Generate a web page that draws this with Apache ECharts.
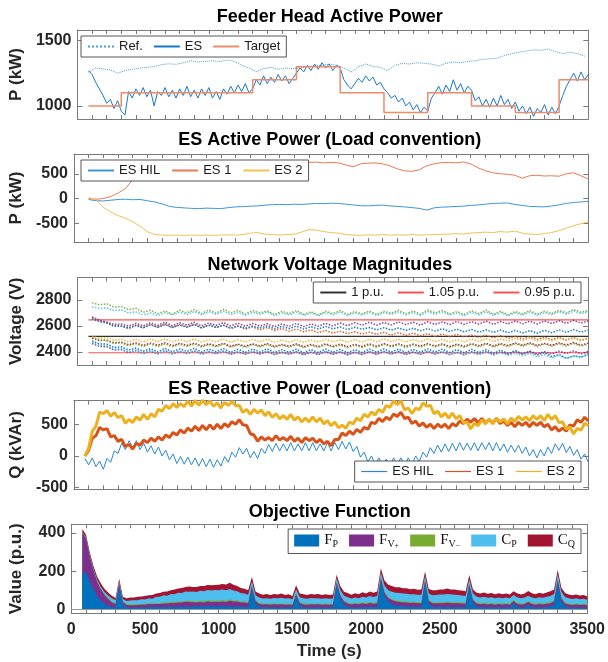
<!DOCTYPE html>
<html><head><meta charset="utf-8">
<script src="https://cdn.jsdelivr.net/npm/echarts@6.0.0/dist/echarts.min.js"></script>
<style>html,body{margin:0;padding:0;background:#fff}#c{width:608px;height:662px}</style>
</head><body><div id="c"></div>
<script>
// ---------- time bases ----------
const T0_25 = 75, DT_25 = 25;   // fine series
const T0_50 = 100, DT_50 = 50;  // coarse series
const T0_REF = 75;

// ---------- Panel 1: Feeder head active power (kW) ----------
const p1Ref = [1258,1290,1282,1275,1250,1270,1280,1288,1295,1300,
 1315,1322,1318,1330,1345,1335,1340,1345,1338,1350,
 1340,1310,1290,1262,1285,1295,1280,1290,1285,1290,
 1300,1305,1310,1320,1310,1290,1260,1300,1320,1300,
 1295,1270,1310,1325,1320,1330,1325,1320,1305,1325,
 1335,1330,1340,1345,1355,1360,1365,1385,1400,1410,
 1420,1428,1425,1435,1415,1400,1410,1400,1380];
const p1ES = [1270,1240,1180,1130,1080,1020,1050,980,1040,960,
 930,1110,1060,1130,1080,1140,1070,1120,1000,1110,
 1080,1140,1070,1120,1060,1130,1080,1150,1070,1120,
 1060,1130,1080,1140,1060,1110,1050,1130,1090,1150,
 1100,1160,1110,1170,1100,1130,1200,1160,1230,1170,
 1220,1180,1240,1190,1230,1170,1210,1250,1290,1260,
 1310,1270,1320,1280,1330,1290,1320,1270,1310,1290,
 1200,1160,1130,1170,1210,1180,1230,1190,1220,1160,
 1180,1130,1100,1060,1080,1030,1060,1000,1030,970,
 1010,950,990,960,1060,1100,1150,1090,1160,1110,
 1200,1120,1170,1100,1150,1120,1040,1070,1000,1050,
 990,1060,1000,1080,1010,1050,980,1030,960,1000,
 940,990,920,980,950,1010,930,990,940,1000,
 1080,1150,1200,1250,1190,1260,1200,1240];
const targetTimes  = [75,300,1200,1500,1800,2100,2400,2700,3000,3300,3500];
const targetLevels = [1000,1100,1200,1300,1100,950,1100,1000,950,1200,1200];

// ---------- Panel 2: ES active power (kW) ----------
const p2HIL = [-20,-45,-50,-35,-20,-15,-25,-20,-45,-70,
 -110,-160,-180,-190,-200,-205,-195,-200,-205,-185,
 -170,-165,-155,-150,-135,-125,-120,-125,-115,-120,
 -110,-100,-105,-95,-100,-115,-130,-145,-150,-140,
 -135,-150,-160,-170,-185,-200,-235,-190,-175,-170,
 -160,-155,-140,-130,-115,-100,-95,-90,-120,-140,
 -160,-165,-170,-150,-130,-100,-80,-70,-55];
const p2ES1 = [0,-15,0,40,110,200,380,480,560,620,
 670,700,720,730,740,735,745,740,735,745,
 740,735,740,730,735,740,730,725,730,725,
 730,735,720,730,720,680,640,700,715,720,
 700,660,600,560,550,580,660,700,725,730,
 720,740,700,620,560,520,500,490,470,410,
 460,470,455,460,450,500,520,460,390];
const p2ES2 = [15,-20,-180,-270,-345,-400,-470,-560,-670,-730,
 -740,-745,-740,-745,-740,-745,-740,-745,-740,-735,
 -740,-730,-700,-690,-720,-730,-740,-730,-720,-680,
 -630,-640,-670,-690,-700,-730,-740,-745,-735,-740,
 -730,-740,-735,-740,-730,-740,-735,-730,-725,-720,
 -710,-720,-700,-690,-680,-690,-670,-680,-660,-700,
 -720,-730,-710,-690,-650,-600,-550,-510,-470];

// ---------- Panel 3: network voltage magnitudes (V) ----------
const puLevels = {one: 2520, high: 2646, low: 2394};
const V1 = [2778,2762,2770,2745,2748,2725,2735,2705,2720,2695,2715,2690,2720,2700,2725,2695,2722,2698,2728,2700,2720,2692,2718,2700,2715,2688,2712,2695,2718,2690,2708,2685,2712,2695,2718,2688,2710,2692,2715,2688,2712,2698,2720,2692,2715,2690,2722,2700,2718,2692,2710,2688,2715,2695,2720,2690,2712,2686,2710,2692,2718,2690,2712,2695,2720,2700,2725,2705,2718];
const V2 = [2748,2735,2738,2718,2722,2700,2708,2685,2700,2680,2702,2684,2706,2688,2710,2685,2708,2690,2712,2686,2706,2682,2704,2690,2708,2680,2700,2686,2706,2682,2698,2678,2702,2686,2708,2680,2700,2684,2704,2680,2702,2688,2708,2684,2704,2680,2710,2690,2706,2684,2700,2678,2704,2686,2708,2682,2702,2678,2700,2684,2706,2682,2702,2688,2710,2690,2714,2694,2708];
const V3 = [2665,2640,2625,2600,2598,2580,2605,2585,2612,2590,2615,2588,2610,2592,2614,2585,2608,2590,2605,2580,2598,2575,2592,2570,2588,2565,2580,2560,2575,2555,2570,2548,2565,2545,2560,2540,2555,2538,2552,2535,2550,2530,2548,2528,2545,2525,2540,2520,2538,2518,2535,2515,2530,2512,2528,2508,2525,2505,2520,2500,2518,2498,2515,2495,2512,2492,2510,2490,2505];
const V4 = [2668,2645,2630,2612,2615,2598,2620,2600,2625,2605,2628,2602,2624,2606,2628,2600,2622,2604,2626,2600,2620,2598,2618,2600,2616,2595,2614,2598,2618,2596,2615,2598,2620,2600,2622,2602,2625,2605,2628,2606,2626,2608,2630,2610,2628,2606,2632,2612,2630,2610,2634,2612,2632,2614,2636,2612,2634,2615,2638,2616,2636,2614,2638,2618,2640,2620,2642,2622,2638];
const V5 = [2655,2632,2622,2598,2600,2584,2604,2586,2608,2590,2610,2588,2606,2590,2610,2584,2604,2588,2606,2584,2600,2582,2598,2584,2600,2578,2596,2580,2598,2576,2594,2576,2596,2578,2592,2572,2590,2574,2588,2570,2586,2568,2584,2566,2582,2562,2580,2560,2578,2558,2575,2555,2572,2552,2570,2550,2568,2548,2566,2546,2564,2544,2566,2548,2570,2550,2572,2552,2568];
const V6 = [2522,2505,2510,2490,2498,2478,2496,2476,2498,2480,2500,2478,2496,2480,2500,2476,2494,2478,2498,2475,2494,2476,2496,2478,2498,2474,2492,2476,2496,2474,2492,2476,2498,2478,2494,2474,2496,2476,2498,2478,2500,2480,2498,2476,2496,2478,2500,2480,2498,2476,2496,2478,2500,2482,2502,2480,2500,2484,2504,2486,2506,2484,2502,2486,2506,2488,2508,2486,2504];
const V7 = [2505,2488,2490,2470,2475,2455,2470,2450,2468,2452,2470,2448,2466,2450,2468,2446,2462,2448,2466,2444,2460,2444,2462,2446,2464,2442,2458,2444,2462,2440,2458,2442,2462,2444,2460,2440,2458,2442,2462,2444,2464,2446,2462,2442,2460,2444,2464,2446,2462,2442,2460,2444,2464,2448,2466,2446,2464,2450,2468,2452,2470,2450,2466,2452,2470,2454,2472,2452,2468];
const V8 = [2485,2462,2460,2435,2440,2415,2430,2405,2425,2400,2428,2402,2424,2404,2428,2400,2422,2402,2426,2398,2420,2398,2422,2400,2424,2396,2418,2398,2422,2394,2418,2396,2422,2398,2420,2394,2418,2396,2422,2398,2424,2400,2422,2396,2420,2398,2424,2400,2422,2396,2418,2394,2420,2396,2418,2390,2414,2388,2410,2384,2404,2376,2396,2365,2380,2352,2370,2360,2385];
const V9 = [2465,2442,2440,2415,2418,2395,2410,2388,2406,2385,2408,2386,2404,2388,2408,2384,2402,2386,2406,2382,2400,2382,2402,2384,2404,2380,2398,2382,2402,2378,2398,2380,2402,2382,2400,2378,2398,2380,2402,2382,2404,2384,2402,2380,2400,2382,2404,2384,2402,2380,2398,2378,2402,2382,2404,2380,2400,2382,2404,2384,2406,2384,2402,2386,2406,2388,2408,2386,2404];
const V10 = [2512,2492,2488,2465,2470,2448,2462,2440,2460,2442,2462,2440,2458,2442,2462,2438,2456,2440,2460,2436,2454,2436,2456,2438,2458,2434,2452,2436,2456,2432,2452,2434,2456,2436,2454,2432,2452,2434,2456,2436,2458,2438,2456,2434,2454,2436,2458,2438,2456,2434,2452,2436,2458,2440,2460,2438,2458,2442,2462,2444,2464,2442,2460,2444,2464,2446,2466,2444,2462];
const V11 = [2475,2452,2448,2422,2425,2400,2415,2392,2410,2388,2412,2386,2406,2390,2410,2384,2404,2388,2408,2382,2402,2384,2404,2386,2406,2380,2400,2384,2404,2378,2400,2382,2404,2384,2402,2378,2400,2382,2404,2380,2402,2384,2404,2380,2400,2382,2406,2384,2402,2378,2398,2376,2400,2380,2402,2376,2396,2372,2392,2368,2388,2362,2380,2355,2372,2350,2368,2360,2378];
const voltTraces = [V1,V2,V3,V4,V5,V6,V7,V8,V9,V10,V11];
const voltColors = ['#77AC30','#4DBEEE','#D95319','#7E2F8E','#0072BD','#EDB120','#A2142F','#0072BD','#7E2F8E','#77AC30','#4DBEEE'];

// ---------- Panel 4: ES reactive power (kVAr) ----------
const p4HIL = [-40,-140,-30,-170,-80,-210,-40,-100,80,40,
 200,100,240,130,240,100,200,60,160,30,
 140,0,90,-60,30,-120,-10,-130,-20,-140,
 -30,-160,-40,-170,-50,-180,-60,-160,-10,-100,
 60,-20,130,30,120,-30,70,-40,120,40,
 180,70,200,80,190,80,210,80,190,80,
 210,80,210,80,190,80,210,80,210,100,
 230,110,220,70,150,-20,60,-90,0,-140,
 -30,-160,-50,-160,-30,-140,-30,-160,-30,-140,
 0,-90,60,-20,130,40,170,60,190,70,
 200,80,210,90,200,90,210,80,210,100,
 210,80,210,80,190,60,170,60,170,40,
 140,0,100,-30,100,0,140,40,190,90,
 200,50,150,10,100,-50,30,-100];
const p4ES1 = [0,90,280,320,450,410,430,300,320,230,
 260,150,180,110,200,170,250,210,280,230,
 300,250,330,290,370,330,410,360,440,390,
 470,400,480,410,490,420,500,430,510,460,
 540,500,570,490,480,350,330,230,300,250,
 290,240,320,250,290,240,310,230,280,210,
 290,240,280,210,260,190,230,160,260,260,
 360,320,390,340,420,370,450,420,530,510,
 590,540,610,570,660,620,690,590,610,510,
 550,470,520,450,500,430,500,450,500,430,
 510,470,550,510,580,530,590,520,590,520,
 570,520,590,510,550,480,530,460,530,480,
 530,460,530,480,530,460,500,410,460,390,
 440,390,490,470,570,530,610,550];
const p4ES2 = [0,120,390,470,690,665,715,625,685,605,
 635,515,575,525,615,565,655,575,665,615,
 735,705,795,745,825,765,825,775,865,785,
 875,795,880,805,865,785,835,755,845,795,
 855,795,795,685,735,655,735,675,725,635,
 695,605,665,585,635,575,655,565,615,535,
 595,535,615,535,595,505,555,475,535,445,
 485,435,535,505,595,555,655,615,695,645,
 735,685,795,765,865,805,865,725,755,665,
 755,725,835,785,795,665,705,615,675,595,
 675,585,635,525,535,425,515,475,565,505,
 585,505,595,535,585,505,595,545,625,565,
 615,555,635,575,635,555,655,575,635,525,
 535,425,455,345,435,405,515,480];

// ---------- Panel 5: objective function components (p.u.) ----------
const objFP = [190,195,150,110,70,45,30,20,12,10,
 120,25,12,8,10,8,12,9,14,10,
 13,10,14,11,15,12,16,12,17,13,
 18,14,18,14,19,15,18,15,19,15,
 18,14,16,13,14,12,110,30,14,10,
 13,9,12,9,12,9,11,10,70,20,
 11,9,12,9,12,9,11,9,11,130,
 60,25,14,10,12,10,13,11,14,11,
 13,150,70,40,28,20,18,15,16,13,
 15,12,14,140,30,14,12,14,12,15,
 12,14,12,13,11,120,35,14,11,13,
 10,12,10,12,10,12,10,30,14,10,
 12,25,12,10,12,10,13,15,25,140,
 40,15,11,9,11,9,10,8];
const objFVp = [210,175,130,95,75,60,45,35,25,18,
 15,14,12,14,12,15,13,16,14,17,
 15,18,17,20,19,22,21,24,23,26,
 20,22,21,23,22,24,22,24,23,24,
 28,27,25,23,22,20,12,14,15,16,
 14,16,15,17,15,16,15,14,10,14,
 15,16,15,17,15,16,15,16,15,10,
 14,16,17,16,18,17,19,18,20,19,
 20,15,18,20,21,22,21,22,20,21,
 20,21,19,12,16,19,20,19,21,20,
 21,19,20,18,19,12,15,17,16,17,
 16,17,15,16,15,16,15,14,16,15,
 16,14,16,15,17,16,17,18,18,15,
 17,16,15,14,15,14,15,14];
const objFVm = [2,2,3,3,3,4,4,4,5,5,
 3,4,4,5,4,5,4,5,4,5,
 4,5,5,5,5,6,5,6,6,6,
 6,6,6,7,6,7,6,7,6,7,
 6,6,6,5,5,5,4,4,5,5,
 4,5,4,5,4,5,4,4,4,4,
 5,5,4,5,4,5,4,5,4,4,
 4,5,5,5,5,5,5,5,5,5,
 5,4,5,5,5,6,5,6,5,6,
 5,6,5,4,5,5,5,5,6,5,
 6,5,6,5,5,4,5,5,6,5,
 6,5,6,5,6,5,6,5,6,6,
 5,5,6,6,5,6,5,6,5,4,
 5,6,5,6,5,6,5,5];
const objCP = [3,4,5,6,8,10,12,14,16,15,
 8,12,16,20,22,20,24,22,26,24,
 34,33,38,36,42,40,45,44,48,47,
 50,49,53,51,55,53,56,54,57,55,
 55,52,48,45,42,40,22,26,28,26,
 28,26,29,27,30,27,28,25,22,26,
 28,26,29,27,28,26,28,26,27,20,
 24,26,28,26,28,27,30,29,31,30,
 32,25,32,36,38,40,42,40,41,39,
 40,38,39,20,32,36,38,40,39,41,
 40,39,38,37,36,22,28,30,29,31,
 29,30,28,30,28,29,27,26,28,27,
 29,28,29,28,30,29,31,32,33,26,
 30,28,27,26,27,25,26,24];
const objCQ = [15,14,12,14,16,18,17,16,14,12,
 14,12,14,16,14,18,15,18,16,19,
 17,20,18,22,20,24,22,26,24,28,
 24,26,25,27,26,28,26,29,28,29,
 32,30,28,26,25,24,22,20,21,20,
 22,19,21,20,22,19,21,18,20,19,
 21,19,21,20,22,19,21,20,21,18,
 20,21,22,20,22,20,23,21,24,22,
 24,22,27,28,30,28,30,28,29,27,
 28,26,27,22,24,26,25,27,26,28,
 26,27,25,26,24,22,22,22,21,23,
 21,22,20,22,20,21,20,20,21,20,
 22,24,22,21,23,21,23,24,24,22,
 22,21,20,19,20,19,20,18];

// ---------- axes / labels ----------
const titles = ['Feeder Head Active Power','ES Active Power (Load convention)','Network Voltage Magnitudes','ES Reactive Power (Load convention)','Objective Function'];
const yNames = ['P (kW)','P (kW)','Voltage (V)','Q (kVAr)','Value (p.u.)'];
const yRanges = [[900,1580],[-880,900],[2300,2970],[-525,870],[-20,445]];
const yTicks = [[1000,1500],[-500,0,500],[2400,2600,2800],[-500,0,500],[0,200,400]];
const xMin = 0, xMax = 3500, xTickStep = 100, xLabelStep = 500;

// ---------- build ----------
const FONT = '"Liberation Sans", Arial, Helvetica, sans-serif';
const AX = '#7a7a7a';
const LBL = '#262626';
const gridTops = [30,154,277.7,400.7,524.3];
const gridHs = [89,88,87.3,88.6,89];
const titleYs = [17,140,265,389,512];

function pairs(t0, dt, arr){ return arr.map((v,i)=>[t0+i*dt, v]); }

const grid=[], xAxis=[], yAxis=[], series=[], graphic=[];
for(let i=0;i<5;i++){
  grid.push({left:71.3, width:517, top:gridTops[i], height:gridHs[i], containLabel:false});
  ['bottom','top'].forEach(pos=>{
    const lab = (i===4 && pos==='bottom');
    xAxis.push({type:'value', gridIndex:i, position:pos, min:xMin, max:xMax, interval:xTickStep,
      axisLine:{show:true,onZero:false,lineStyle:{color:AX,width:1}},
      axisTick:{show:true,inside:true,length:4,lineStyle:{color:AX}},
      axisLabel:{show:lab, margin:8, fontSize:16, fontWeight:'bold', color:LBL, fontFamily:FONT,
        formatter:v=> (v % xLabelStep === 0 ? String(v) : '')},
      splitLine:{show:false},
      name: lab ? 'Time (s)' : '', nameLocation:'middle', nameGap:30,
      nameTextStyle:{fontSize:17, fontWeight:'bold', color:LBL, fontFamily:FONT}});
  });
  ['left','right'].forEach(pos=>{
    const lab = pos==='left';
    yAxis.push({type:'value', gridIndex:i, position:pos, min:yRanges[i][0], max:yRanges[i][1],
      axisLine:{show:true,onZero:false,lineStyle:{color:AX,width:1}},
      axisTick:{show:true,inside:true,length:5,lineStyle:{color:AX},customValues:yTicks[i]},
      axisLabel:{show:lab, margin:6, fontSize:16, fontWeight:'bold', color:LBL, fontFamily:FONT,
        customValues:yTicks[i], formatter:v=>String(v)},
      splitLine:{show:false},
      name: lab ? yNames[i] : '', nameLocation:'middle', nameGap:46,
      nameTextStyle:{fontSize:17, fontWeight:'bold', color:LBL, fontFamily:FONT}});
  });
  graphic.push({type:'text', x:329.8, y:titleYs[i], z:100,
    style:{text:titles[i], font:'bold 18px '+FONT, fill:'#000', align:'center', verticalAlign:'middle', textAlign:'center', textVerticalAlign:'middle'}});
}

function ln(name, i, data, color, width, extra){
  return Object.assign({type:'line', name, xAxisIndex:2*i, yAxisIndex:2*i, data,
    symbol:'none', showSymbol:false, animation:false, silent:true,
    lineStyle:{color, width}, itemStyle:{color}}, extra||{});
}

// panel 1
series.push(ln('Ref.',0,pairs(T0_REF,DT_50,p1Ref),'#4b9ad9',1,{lineStyle:{color:'#4b9ad9',width:1,type:'dotted'}}));
series.push(ln('ES',0,pairs(T0_25,DT_25,p1ES),'#1a78c8',1));
series.push(ln('Target',0,targetTimes.map((t,k)=>[t,targetLevels[k]]),'#ef8a66',1.5,{step:'end'}));
// panel 2
series.push(ln('ES HIL',1,pairs(T0_50,DT_50,p2HIL),'#3f96dc',1));
series.push(ln('ES 1',1,pairs(T0_50,DT_50,p2ES1),'#ea7a52',1));
series.push(ln('ES 2',1,pairs(T0_50,DT_50,p2ES2),'#f3c24e',1));
// panel 3 reference levels
const refSpan = [T0_25, xMax];
series.push(ln('1 p.u.',2,refSpan.map(t=>[t,puLevels.one]),'#333333',1.2));
series.push(ln('1.05 p.u.',2,refSpan.map(t=>[t,puLevels.high]),'#ff5050',1.2));
series.push(ln('0.95 p.u.',2,refSpan.map(t=>[t,puLevels.low]),'#ff5050',1.2));
voltTraces.forEach((v,k)=>{
  series.push(ln('v'+k,2,pairs(T0_50,DT_50,v),voltColors[k],1.5,{lineStyle:{color:voltColors[k],width:1.5,type:'dotted',opacity:0.9}}));
});
// panel 4 (names carry a trailing space so their legend is independent of panel 2's)
series.push(ln('ES HIL ',3,pairs(T0_25,DT_25,p4HIL),'#2a86d2',1));
series.push(ln('ES 1 ',3,pairs(T0_25,DT_25,p4ES1),'#D95319',3));
series.push(ln('ES 2 ',3,pairs(T0_25,DT_25,p4ES2),'#EDB120',3));
// panel 5: stacked areas, drawn as cumulative fills from 0 (top layer first, bottom layer last)
const objComps = [['FP',objFP,'#0072BD'],['FV+',objFVp,'#7E2F8E'],['FV-',objFVm,'#77AC30'],['CP',objCP,'#4DBEEE'],['CQ',objCQ,'#A2142F']];
const cum = [];
objComps.forEach(([n,arr],k)=>{ cum.push(arr.map((v,j)=> v + (k>0 ? cum[k-1][j] : 0))); });
for(let k=objComps.length-1;k>=0;k--){
  const [n,,c] = objComps[k];
  const s = ln(n,4,pairs(T0_25,DT_25,cum[k]),c,0,{areaStyle:{color:c,opacity:1,origin:0}, lineStyle:{width:0,color:c}});
  if(k===objComps.length-1){ s.markLine = {silent:true, symbol:'none', animation:false, label:{show:false},
    lineStyle:{color:'#9a9a9a',width:1.2,type:'solid'}, data:[{yAxis:0}]}; }
  series.push(s);
}

const legBase = {orient:'horizontal', itemWidth:26, itemHeight:14, itemGap:10, padding:[4,6,4,6],
  backgroundColor:'#fff', borderColor:'#2b2b2b', borderWidth:0.8, selectedMode:false,
  itemStyle:{opacity:0}, formatter:n=>n.trim(),
  textStyle:{fontSize:13, color:'#1a1a1a', fontFamily:FONT}};
const rich = {
  f:{fontFamily:'"Liberation Serif","DejaVu Serif",serif', fontSize:15, lineHeight:18, color:'#111'},
  s:{fontFamily:'"Liberation Serif","DejaVu Serif",serif', fontSize:10, lineHeight:10, verticalAlign:'bottom', color:'#111'},
  ss:{fontFamily:'"Liberation Serif","DejaVu Serif",serif', fontSize:8, lineHeight:3, verticalAlign:'bottom', color:'#111'}
};
const objLabels = {'FP':'{f|F}{s|P}','FV+':'{f|F}{s|V}{ss|+}','FV-':'{f|F}{s|V}{ss|−}','CP':'{f|C}{s|P}','CQ':'{f|C}{s|Q}'};
const legend = [
  Object.assign({}, legBase, {data:['Ref.','ES','Target'], left:81, top:36}),
  Object.assign({}, legBase, {data:['ES HIL','ES 1','ES 2'], left:81, top:160, itemGap:11}),
  Object.assign({}, legBase, {data:['1 p.u.','1.05 p.u.','0.95 p.u.'], right:27, top:282, itemGap:13}),
  Object.assign({}, legBase, {data:['ES HIL ','ES 1 ','ES 2 '], right:27, top:461, itemGap:11, lineStyle:{width:1.2}}),
  Object.assign({}, legBase, {data:['FP','FV+','FV-','CP','CQ'], right:27, top:529, icon:'rect', itemWidth:25, itemHeight:12, itemGap:11,
    itemStyle:{opacity:1},
    formatter:n=>objLabels[n], textStyle:{fontSize:13, color:'#111', fontFamily:FONT, rich}})
];

const chart = echarts.init(document.getElementById('c'), null, {renderer:'canvas'});
chart.setOption({animation:false, backgroundColor:'#fff', grid, xAxis, yAxis, series, legend, graphic});
</script></body></html>
